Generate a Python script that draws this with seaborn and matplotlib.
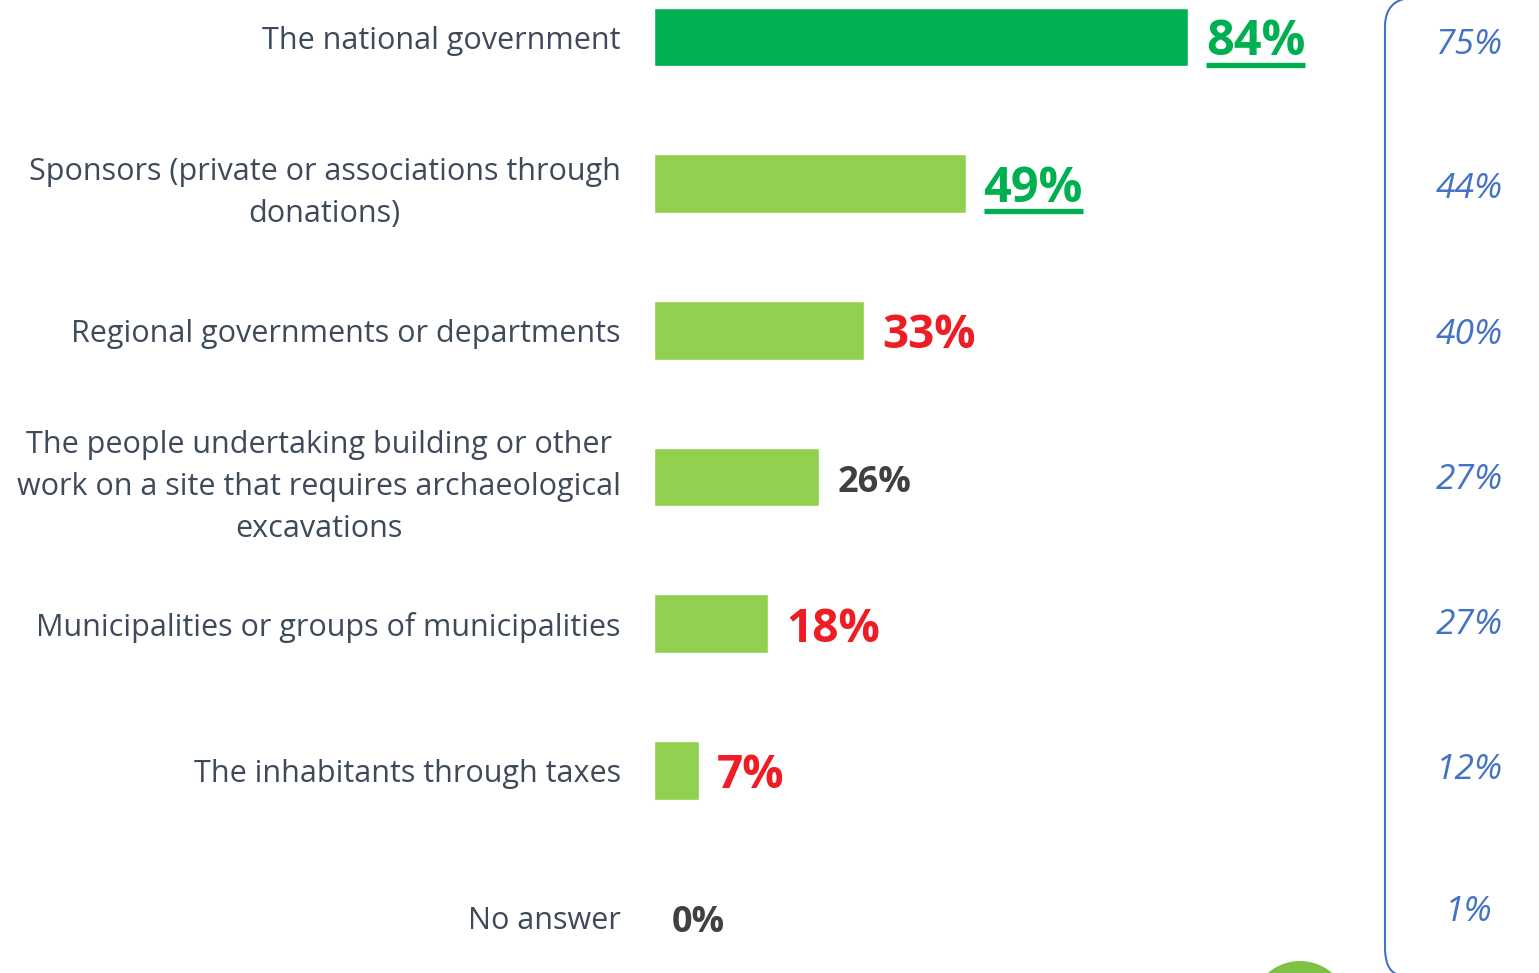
import matplotlib
matplotlib.use("Agg")
import matplotlib.pyplot as plt
import matplotlib.transforms as mtransforms
import seaborn as sns
import pandas as pd
from matplotlib.path import Path
from matplotlib.patches import PathPatch, Circle
from matplotlib.lines import Line2D

categories = [
    "The national government",
    "Sponsors (private or associations through\ndonations)",
    "Regional governments or departments",
    "The people undertaking building or other\nwork on a site that requires archaeological\nexcavations",
    "Municipalities or groups of municipalities",
    "The inhabitants through taxes",
    "No answer",
]
values = [84, 49, 33, 26, 18, 7, 0]
compare_values = [75, 44, 40, 27, 27, 12, 1]
bar_colors = ["#00B050", "#92D050", "#92D050", "#92D050", "#92D050", "#92D050", "#92D050"]
label_colors = ["#00B050", "#00B050", "#EE1C25", "#404040", "#EE1C25", "#EE1C25", "#404040"]
label_sizes = [35, 35, 33, 26, 33, 33, 26]
label_underline = [True, True, False, False, False, False, False]

W, H = 1539, 973
sns.set_style("white")
plt.rcParams["font.family"] = ["Open Sans", "DejaVu Sans"]

fig = plt.figure(figsize=(W / 100, H / 100), dpi=100)
x0 = 654
px_per_unit = 534 / 84.0
ax = fig.add_axes([x0 / W, 0, (W - x0) / W, 1])

df = pd.DataFrame({"cat": categories, "val": values})
sns.barplot(data=df, x="val", y="cat", hue="cat", palette=bar_colors,
            legend=False, orient="h", width=0.4, ax=ax, saturation=1)

spacing = 146.7
top_c = 37
ax.set_xlim(0, (W - x0) / px_per_unit)
ax.set_ylim((H - top_c) / spacing, -top_c / spacing)
for s in ax.spines.values():
    s.set_visible(False)
ax.set_xticks([])
ax.set_xlabel("")
ax.set_ylabel("")
ax.tick_params(axis="y", length=0, pad=24)
ax.set_yticks(range(len(categories)))
ax.set_yticklabels(categories, fontsize=22, color="#3E4A5A", multialignment="center",
                   linespacing=1.53)

def py_to_data(py):
    return (py - top_c) / spacing

texts = []
for i, (v, c, s) in enumerate(zip(values, label_colors, label_sizes)):
    base_off = {35: 18, 33: 18, 26: 15}[s]
    t = ax.text(v + 18 / px_per_unit, py_to_data(top_c + spacing * i + base_off), f"{v}%",
                color=c, fontsize=s, fontweight="bold", ha="left", va="baseline")
    texts.append(t)

# right comparison column
right_y = [54, 198, 344, 489, 634, 779, 921]
for v, yb in zip(compare_values, right_y):
    fig.text(1469 / W, 1 - yb / H, f"{v}%", fontsize=25.5, style="italic",
             color="#4472C4", ha="center", va="baseline")

# bracket
verts = [(1410, -2), (1386, 0), (1385, 25), (1385, 950), (1386, 973), (1400, 975)]
verts = [(x / W, 1 - y / H) for x, y in verts]
codes = [Path.MOVETO, Path.CURVE3, Path.CURVE3, Path.LINETO, Path.CURVE3, Path.CURVE3]
fig.patches.append(PathPatch(Path(verts, codes), transform=fig.transFigure,
                             fill=False, edgecolor="#4472C4", linewidth=1.5))

# partial logo at the bottom (cut off by the frame)
ident = mtransforms.IdentityTransform()
fig.patches.append(Circle((1300, 973 - 1010), 49, transform=ident,
                          facecolor="#7DC242", edgecolor="none"))

fig.canvas.draw()
r = fig.canvas.get_renderer()
for t, u in zip(texts, label_underline):
    if not u:
        continue
    bb = t.get_window_extent(r)
    tx, ty = t.get_position()
    _, base_disp = ax.transData.transform((tx, ty))
    yline = base_disp - 9.5
    fig.lines.append(Line2D([bb.x0 / W, bb.x1 / W], [yline / H, yline / H],
                            transform=fig.transFigure, color="#00B050", linewidth=3.8,
                            solid_capstyle="butt"))

fig.savefig("out.png", dpi=100, facecolor="white")
